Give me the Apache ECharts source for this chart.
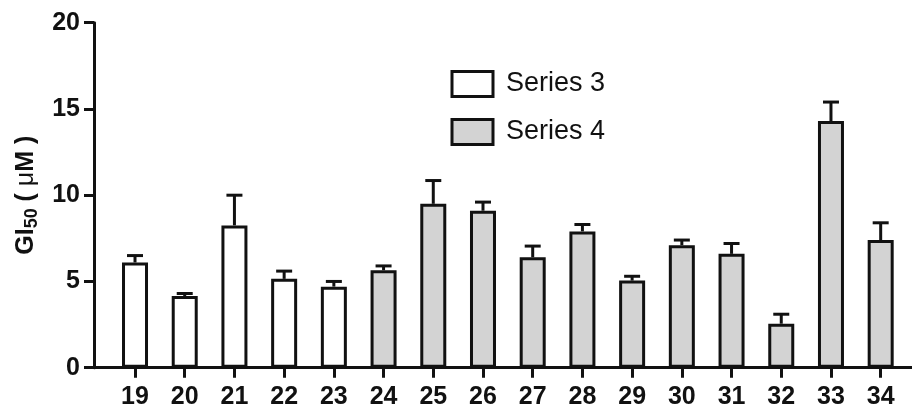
<!DOCTYPE html>
<html>
<head>
<meta charset="utf-8">
<script src="https://cdn.jsdelivr.net/npm/echarts@6/dist/echarts.min.js"></script>
<style>
  html, body { margin: 0; padding: 0; background: #fff; }
  #chart { width: 912px; height: 407px; }
</style>
</head>
<body>
<div id="chart"></div>
<script>
// compound labels along the x axis
const categories = ['19', '20', '21', '22', '23', '24', '25', '26', '27', '28', '29', '30', '31', '32', '33', '34']

// mean GI50 (µM) and error (SD)
const series3Values = [6.1, 4.15, 8.25, 5.15, 4.7]
const series3Errors = [0.4, 0.15, 1.75, 0.45, 0.3]
const series4Values = [5.65, 9.5, 9.1, 6.4, 7.9, 5.05, 7.1, 6.6, 2.55, 14.3, 7.4]
const series4Errors = [0.25, 1.35, 0.5, 0.65, 0.4, 0.25, 0.3, 0.6, 0.55, 1.1, 1.0]

const yTicks = [0, 5, 10, 15, 20]

const font = "'Liberation Sans', Arial, sans-serif"

let chart = echarts.init(document.getElementById('chart'), null, { renderer: 'canvas' })

// bars use the category index as x, so series 4 starts after series 3
let bars3 = series3Values.map((v, i) => [i, v])
let bars4 = series4Values.map((v, i) => [i + series3Values.length, v])
let errData = []
series3Values.forEach((v, i) => errData.push([i, v, series3Errors[i]]))
series4Values.forEach((v, i) => errData.push([i + series3Values.length, v, series4Errors[i]]))

let idx = categories.map((c, i) => i)

function renderErr(params, api) {
  let x = api.value(0)
  let base = api.coord([x, api.value(1)])
  let top = api.coord([x, api.value(1) + api.value(2)])
  let st = { stroke: '#111', lineWidth: 3 }
  return {
    type: 'group',
    children: [
      { type: 'line', shape: { x1: base[0], y1: base[1], x2: top[0], y2: top[1] }, style: st },
      { type: 'line', shape: { x1: top[0] - 8, y1: top[1], x2: top[0] + 8, y2: top[1] }, style: st }
    ]
  }
}

let option = {
  animation: false,
  backgroundColor: '#fff',
  grid: { left: 94, right: 0, top: 22.7, bottom: 39.3, outerBoundsMode: 'none' },
  legend: {
    orient: 'vertical',
    left: 450.5,
    top: 70,
    padding: 0,
    itemWidth: 41,
    itemHeight: 25,
    itemGap: 20,
    icon: 'rect',
    textStyle: { fontFamily: font, fontSize: 27, color: '#111', lineHeight: 25, padding: [0, 0, 0, 8] },
    data: [
      { name: 'Series 3', itemStyle: { color: '#fff', borderColor: '#111', borderWidth: 3 } },
      { name: 'Series 4', itemStyle: { color: '#d3d3d3', borderColor: '#111', borderWidth: 3 } }
    ]
  },
  xAxis: {
    type: 'value',
    min: -0.825,
    max: 15.63,
    splitLine: { show: false },
    axisLine: { show: true, onZero: false, lineStyle: { color: '#111', width: 3 } },
    axisTick: { show: true, customValues: idx, length: 10, lineStyle: { color: '#111', width: 3 } },
    axisLabel: {
      customValues: idx,
      formatter: v => categories[Math.round(v)],
      margin: 17,
      fontFamily: font, fontSize: 25, fontWeight: 'bold', color: '#111'
    }
  },
  yAxis: {
    type: 'value',
    min: 0,
    max: 20,
    interval: 5,
    splitLine: { show: false },
    axisLine: { show: true, onZero: false, lineStyle: { color: '#111', width: 3 } },
    axisTick: { show: true, length: 10, lineStyle: { color: '#111', width: 3 } },
    axisLabel: {
      margin: 14,
      formatter: v => yTicks.includes(v) ? String(v) : '',
      fontFamily: font, fontSize: 25, fontWeight: 'bold', color: '#111'
    },
    name: '{b|GI}{s|50}{b| ( }{m|μ}{b|M )}',
    nameLocation: 'middle',
    nameGap: 54,
    nameTextStyle: {
      rich: {
        b: { fontFamily: font, fontSize: 25, fontWeight: 'bold', color: '#111', lineHeight: 26, verticalAlign: 'bottom' },
        s: { fontFamily: font, fontSize: 18, fontWeight: 'bold', color: '#111', lineHeight: 18, verticalAlign: 'bottom', padding: [0, 0, -3, 0] },
        m: { fontFamily: font, fontSize: 25, color: '#111', lineHeight: 26, verticalAlign: 'bottom' }
      }
    }
  },
  series: [
    {
      name: 'err',
      type: 'custom',
      z: 1,
      renderItem: renderErr,
      data: errData
    },
    {
      name: 'Series 3',
      type: 'bar',
      z: 2,
      barWidth: 26,
      barGap: '-100%',
      itemStyle: { color: '#fff', borderColor: '#111', borderWidth: 3 },
      data: bars3
    },
    {
      name: 'Series 4',
      type: 'bar',
      z: 2,
      barWidth: 26,
      barGap: '-100%',
      itemStyle: { color: '#d3d3d3', borderColor: '#111', borderWidth: 3 },
      data: bars4
    }
  ]
}

chart.setOption(option)
</script>
</body>
</html>
